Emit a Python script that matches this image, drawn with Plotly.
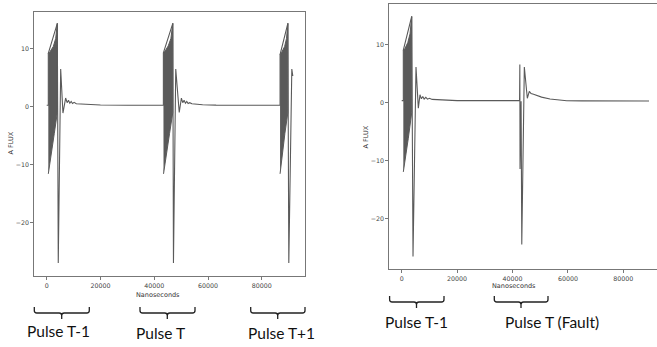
import plotly.graph_objects as go

# ---------------- data ----------------
# Left panel: normal sequence, pulses T-1, T, T+1
left_x = [0, 600, 600, 3950, 4300, 5200, 6040, 7040, 7600, 8100, 8600, 9100, 9600, 10200,
          11000, 12500, 15000, 20000, 30000, 43400, 43400, 46900, 47150, 48000, 49300, 50100,
          50600, 51100, 51600, 52100, 52600, 53200, 54000, 55500, 58000, 63000, 75000, 86800,
          86800, 89700, 90050, 91170, 91540]
left_y = [0.25, 0.25, 9.2, 14.4, -27.0, 6.5, -1.1, 1.5, 0.7, 1.1, 0.6, 0.9, 0.55, 0.75,
          0.5, 0.45, 0.38, 0.3, 0.25, 0.25, 9.3, 14.4, -27.0, 6.5, -1.0, 1.5,
          0.7, 1.1, 0.6, 0.9, 0.55, 0.7, 0.5, 0.42, 0.35, 0.28, 0.25, 0.25,
          9.0, 14.4, -27.0, 6.5, 5.3]

# dense oscillation bursts (envelope outlines) - left panel
left_burst_x = [
    [600, 1230, 2460, 3350, 3950, 3950, 2830, 1340, 600],
    [43400, 44000, 45200, 46200, 46900, 46900, 45700, 44200, 43450],
    [86800, 87400, 88500, 89200, 89700, 89700, 88600, 87300, 86800],
]
left_burst_y = [
    [9.2, 9.5, 10.4, 11.8, 14.4, -1.0, -4.6, -9.2, -11.6],
    [9.3, 9.6, 10.5, 11.8, 14.4, -1.0, -4.6, -9.2, -11.6],
    [9.0, 9.4, 10.4, 11.8, 14.4, -1.0, -4.6, -9.2, -11.6],
]

# Right panel: pulse T-1 and faulty pulse T
right_x = [0, 580, 580, 3610, 4080, 5160, 6000, 6600, 7100, 7600, 8100, 8700, 9300, 10000,
           11000, 12500, 14400, 20000, 30000, 42550, 42650, 42720, 43100, 43350, 44270, 45350,
           46070, 46700, 47600, 48740, 50500, 53540, 56500, 59570, 65000, 75000, 89300]
right_y = [0.3, 0.3, 9.0, 14.8, -26.6, 6.1, -1.0, 1.3, 0.6, 1.0, 0.55, 0.85, 0.55, 0.7,
           0.5, 0.45, 0.4, 0.3, 0.3, 0.3, 6.5, -11.5, 0.2, -24.5, 6.1, 0.7,
           1.9, 1.5, 1.4, 1.2, 0.9, 0.57, 0.4, 0.28, 0.25, 0.22, 0.22]

right_burst_x = [[580, 1200, 2200, 3000, 3610, 3610, 2380, 1080, 580]]
right_burst_y = [[9.0, 9.3, 10.3, 11.8, 14.8, -1.8, -6.2, -10.8, -12.0]]

x_ticks = [0, 20000, 40000, 60000, 80000]
y_ticks = [-20, -10, 0, 10]

x_title = "Nanoseconds"
y_title = "A FLUX"

left_labels = ["Pulse T-1", "Pulse T", "Pulse T+1"]
right_labels = ["Pulse T-1", "Pulse T (Fault)"]

# ---------------- figure ----------------
W, H = 657, 347
LINE = "#5a5a5a"


def X(px):
    return px / W


def Y(py):
    return 1 - py / H


fig = go.Figure()

for bx, by in zip(left_burst_x, left_burst_y):
    fig.add_trace(go.Scatter(x=bx, y=by, mode="lines", fill="toself", fillcolor=LINE,
                             line=dict(color=LINE, width=1), xaxis="x", yaxis="y",
                             hoverinfo="skip"))
fig.add_trace(go.Scatter(x=left_x, y=left_y, mode="lines",
                         line=dict(color=LINE, width=1.1), xaxis="x", yaxis="y"))

for bx, by in zip(right_burst_x, right_burst_y):
    fig.add_trace(go.Scatter(x=bx, y=by, mode="lines", fill="toself", fillcolor=LINE,
                             line=dict(color=LINE, width=1), xaxis="x2", yaxis="y2",
                             hoverinfo="skip"))
fig.add_trace(go.Scatter(x=right_x, y=right_y, mode="lines",
                         line=dict(color=LINE, width=1.1), xaxis="x2", yaxis="y2"))

tickfont = dict(family="DejaVu Sans", size=6.3, color="#444")
axis_common = dict(showgrid=False, zeroline=False, showline=True, linecolor="#777",
                   linewidth=1, ticks="outside", ticklen=3, tickwidth=0.8,
                   tickcolor="#777", tickfont=tickfont)

fig.update_layout(
    width=W, height=H, margin=dict(l=0, r=0, t=0, b=0),
    paper_bgcolor="white", plot_bgcolor="white", showlegend=False,
    xaxis=dict(domain=[X(34.4), X(305)], range=[-4575, 96075], tickvals=x_ticks,
               tickformat="d", mirror=True, anchor="y", **axis_common),
    yaxis=dict(domain=[Y(276), Y(12)], range=[-29.24, 16.36], tickvals=y_ticks,
               mirror=True, anchor="x", **axis_common),
    xaxis2=dict(domain=[X(389.3), 1.0], range=[-4480, 92170], tickvals=x_ticks,
                tickformat="d", mirror=True, anchor="y2", **axis_common),
    yaxis2=dict(domain=[Y(269.3), Y(4.3)], range=[-28.79, 16.9], tickvals=y_ticks,
                mirror=False, anchor="x2", **axis_common),
)

annotations = []
title_font = dict(family="DejaVu Sans", size=6.5, color="#333")
annotations.append(dict(text=x_title, x=X(158), y=Y(295), xref="paper", yref="paper",
                        showarrow=False, font=title_font, xanchor="center", yanchor="middle"))
annotations.append(dict(text=x_title, x=X(514), y=Y(286), xref="paper", yref="paper",
                        showarrow=False, font=title_font, xanchor="center", yanchor="middle"))
annotations.append(dict(text=y_title, x=X(10), y=Y(143.5), xref="paper", yref="paper",
                        showarrow=False, font=title_font, textangle=-90,
                        xanchor="center", yanchor="middle"))
annotations.append(dict(text=y_title, x=X(365.5), y=Y(137), xref="paper", yref="paper",
                        showarrow=False, font=title_font, textangle=-90,
                        xanchor="center", yanchor="middle"))

label_font = dict(family="Lato", size=15.5, color="#111")
left_label_pos = [(58.7, 330.7), (160, 333), (281, 333)]
right_label_pos = [(416, 321.7), (551.5, 322)]
for txt, (lx, ly) in zip(left_labels + right_labels, left_label_pos + right_label_pos):
    annotations.append(dict(text=txt, x=X(lx), y=Y(ly), xref="paper", yref="paper",
                            showarrow=False, font=label_font,
                            xanchor="center", yanchor="middle"))
fig.update_layout(annotations=annotations)

# braces (x1, x2, mid, top, line, tick) in pixels
braces = [
    (34.3, 89.3, 61.7, 307, 313, 319),
    (140, 195, 167.3, 307, 313, 319),
    (250.7, 305, 277.7, 307, 313, 319),
    (389.6, 444, 416.5, 296, 302, 308),
    (494.3, 548, 521, 296, 302, 308),
]
shapes = []
for x1, x2, mid, top, ln, tk in braces:
    r = 2.5
    path = (f"M {X(x1)},{Y(top)} L {X(x1)},{Y(ln - r)} Q {X(x1)},{Y(ln)} {X(x1 + r)},{Y(ln)} "
            f"L {X(mid - r)},{Y(ln)} Q {X(mid)},{Y(ln)} {X(mid)},{Y(ln + r)} L {X(mid)},{Y(tk)} "
            f"M {X(mid)},{Y(ln + r)} Q {X(mid)},{Y(ln)} {X(mid + r)},{Y(ln)} "
            f"L {X(x2 - r)},{Y(ln)} Q {X(x2)},{Y(ln)} {X(x2)},{Y(ln - r)} L {X(x2)},{Y(top)}")
    shapes.append(dict(type="path", path=path, xref="paper", yref="paper",
                       line=dict(color="#222", width=1.3)))
fig.update_layout(shapes=shapes)

fig.write_html(
    "out.html",
    config={"displayModeBar": False},
    post_script="document.body.style.margin='0';document.body.style.overflow='hidden';",
)
